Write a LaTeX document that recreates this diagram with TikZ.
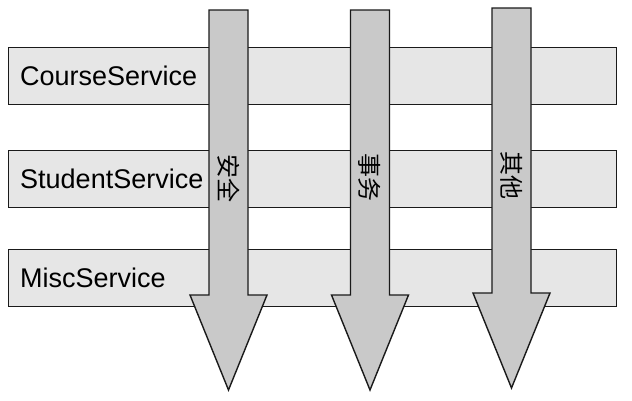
\documentclass[tikz,border=0pt]{standalone}
\usepackage{fontspec}
\setmainfont{Liberation Sans}
\newfontfamily\cjk{Noto Sans CJK SC}
\usetikzlibrary{positioning}
\definecolor{barGray}{HTML}{E6E6E6}
\definecolor{arrowGray}{HTML}{C9C9C9}
\definecolor{lineGray}{HTML}{1A1A1A}

\begin{document}
\begin{tikzpicture}[x=1pt, y=-1pt,
  service/.style={draw=lineGray, fill=barGray, line width=1.4pt,
    minimum width=608pt, minimum height=57pt, inner sep=0pt, anchor=north west},
  svclabel/.style={font=\fontsize{27}{30}\selectfont, inner sep=0pt, anchor=west},
  aspect/.style={draw=lineGray, fill=arrowGray, line width=1.4pt, line join=miter},
  aspectlabel/.style={font=\cjk\fontsize{24}{26}\selectfont, rotate=-90, inner sep=0pt},
]
\useasboundingbox (0,0) rectangle (632,400);

% === services ===
\foreach \name/\y/\txt in {course/47/CourseService, student/150/StudentService, misc/249/MiscService} {
  \node[service] (\name) at (8,\y) {};
  \node[svclabel, right=12pt of \name.west] (\name-label) {\txt};
}

% === cross-cutting aspects ===
\foreach \name/\cx/\ty/\ly/\txt in {safety/228.5/10/178/安全, trans/370/10/177/事务, other/511.5/8/175/其他} {
  \draw[aspect] ({\cx-19.5},\ty) -- ({\cx+19.5},\ty) -- ({\cx+19.5},{\ty+285})
    -- ({\cx+38.5},{\ty+285}) -- (\cx,{\ty+380}) -- ({\cx-38.5},{\ty+285})
    -- ({\cx-19.5},{\ty+285}) -- cycle;
  \node[aspectlabel] (\name) at (\cx,\ly) {\txt};
}

\end{tikzpicture}
\end{document}
